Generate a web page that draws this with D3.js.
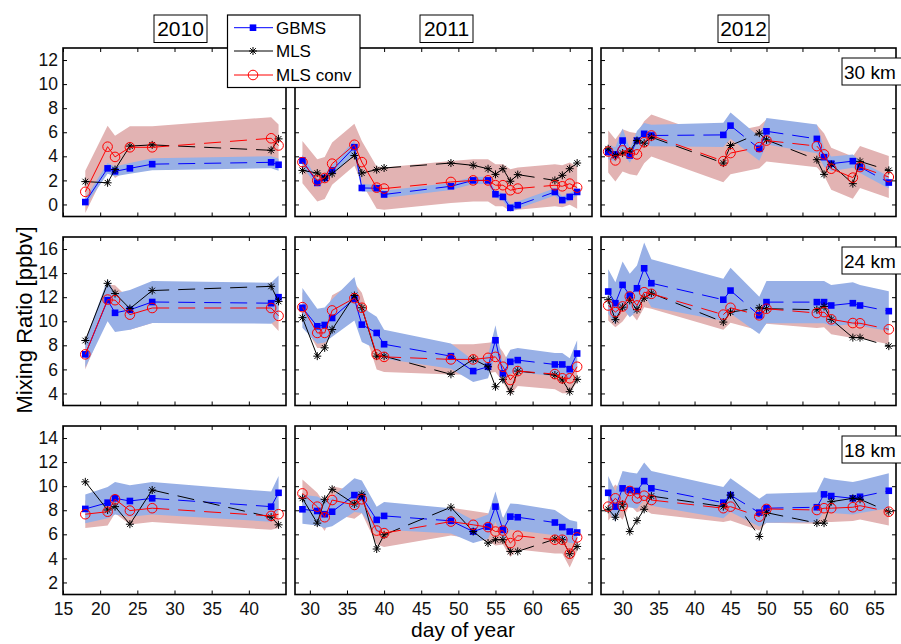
<!DOCTYPE html>
<html><head><meta charset="utf-8">
<script src="https://cdn.jsdelivr.net/npm/d3@7"></script>
<style>body{margin:0;background:#fff}svg{display:block}text{font-family:Arial,"Liberation Sans",Helvetica,sans-serif}</style>
</head><body><svg id="c" width="901" height="644"></svg>
<script>
// ---------------- data ----------------
const years = ["2010", "2011", "2012"];
const altitudes = ["30 km", "24 km", "18 km"];
const seriesNames = ["GBMS", "MLS", "MLS conv"];

const days2010 = [18, 21, 22, 24, 27, 43, 44];
const days2011 = [29, 31, 32, 33, 36, 37, 39, 40, 49, 52, 54, 55, 56, 57, 58, 63, 64, 65, 66];
const days2012 = [28, 29, 30, 31, 32, 33, 34, 44, 45, 49, 50, 57, 58, 59, 62, 63, 67];

// 30 km
const gbms2010_30 = [0.2, 3.0, 2.75, 3.0, 3.35, 3.5, 3.3];
const mls2010_30  = [1.9, 1.8, 2.9, 4.85, 4.95, 4.5, 5.45];
const conv2010_30 = [1.05, 4.8, 3.95, 4.75, 4.75, 5.5, 4.9];
const gerr2010_30 = [0.3, 0.45, 0.4, 0.45, 0.5, 0.5, 0.5];

const gbms2011_30 = [3.65, 1.79, 2.2, 2.83, 4.76, 1.37, 1.35, 0.83, 1.51, 2.0, 2.0, 0.85, 0.63, -0.28, -0.06, 1.04, 0.36, 0.63, 1.04];
const mls2011_30  = [2.83, 2.61, 2.2, 2.56, 4.07, 2.61, 2.89, 3.03, 3.44, 3.25, 2.97, 2.5, 2.97, 1.93, 2.48, 2.0, 2.42, 2.97, 3.44];
const conv2011_30 = [3.52, 2.0, 2.2, 3.39, 4.96, 3.52, 1.4, 1.32, 1.87, 2.0, 2.0, 1.6, 1.6, 1.18, 1.32, 1.6, 1.51, 1.73, 1.4];
const gerr2011_30 = [0.5, 0.3, 0.35, 0.4, 0.6, 0.3, 0.3, 0.3, 0.3, 0.3, 0.3, 0.3, 0.3, 0.3, 0.3, 0.3, 0.3, 0.3, 0.3];

const gbms2012_30 = [4.35, 4.16, 5.31, 4.07, 5.31, 5.87, 5.73, 5.78, 6.55, 4.63, 6.08, 5.45, 3.93, 3.39, 3.6, 3.11, 1.82];
const mls2012_30  = [4.63, 4.07, 4.27, 4.43, 5.31, 5.09, 5.59, 3.44, 4.9, 5.92, 5.37, 3.72, 2.5, 3.33, 1.73, 3.58, 2.83];
const conv2012_30 = [4.4, 3.66, 4.49, 4.27, 4.16, 5.17, 5.73, 3.6, 4.27, 4.76, 5.31, 4.85, 4.16, 2.97, 2.23, 3.11, 2.28];
const gerr2012_30 = [0.6, 0.6, 1.0, 0.6, 0.8, 0.9, 0.9, 1.0, 1.1, 1.0, 1.1, 1.2, 0.8, 0.6, 0.55, 0.5, 0.5];

// 24 km
const gbms2010_24 = [7.25, 11.75, 10.7, 10.95, 11.6, 11.5, 12.0];
const mls2010_24  = [8.4, 13.15, 12.3, 11.05, 12.55, 12.9, 11.65];
const conv2010_24 = [7.25, 11.8, 11.75, 10.55, 11.1, 11.1, 10.45];
const gerr2010_24 = [1.1, 1.75, 1.6, 1.65, 1.75, 1.7, 1.8];

const gbms2011_24 = [11.12, 9.58, 9.69, 10.27, 11.87, 9.72, 9.03, 8.09, 7.1, 5.86, 6.22, 8.42, 5.67, 6.63, 6.77, 6.41, 6.41, 6.02, 7.32];
const mls2011_24  = [10.3, 7.1, 7.79, 9.31, 12.14, 11.12, 7.1, 7.1, 5.59, 6.85, 6.22, 4.56, 5.17, 4.15, 5.86, 5.53, 5.12, 4.15, 5.17];
const conv2011_24 = [11.17, 9.03, 9.03, 10.9, 11.92, 11.12, 7.24, 7.04, 6.83, 6.83, 6.96, 7.04, 6.22, 5.12, 5.86, 5.61, 5.26, 5.26, 6.22];
const gerr2011_24 = [1.65, 1.45, 1.45, 1.55, 1.8, 1.45, 1.35, 1.2, 1.05, 0.9, 0.95, 1.25, 0.85, 1.0, 1.0, 0.95, 0.95, 0.9, 1.1];

const gbms2012_24 = [12.47, 11.5, 13.02, 12.14, 12.74, 14.4, 13.16, 11.79, 12.55, 10.49, 11.59, 11.59, 11.59, 11.31, 11.5, 11.31, 10.84];
const mls2012_24  = [11.79, 10.13, 11.17, 11.73, 10.96, 11.92, 12.33, 9.93, 10.76, 11.12, 11.04, 10.96, 11.23, 10.16, 8.64, 8.64, 7.93];
const conv2012_24 = [11.31, 10.76, 11.23, 12.06, 11.31, 12.41, 12.28, 10.55, 11.12, 10.49, 11.04, 10.68, 10.76, 10.16, 9.85, 9.83, 9.33];
const gerr2012_24 = [1.85, 1.75, 1.95, 1.8, 1.9, 2.15, 2.0, 1.75, 1.9, 1.55, 1.75, 1.75, 1.75, 1.7, 1.75, 1.7, 1.65];

// 18 km
const gbms2010_18 = [8.11, 8.63, 8.99, 8.77, 8.99, 8.3, 9.45];
const mls2010_18  = [10.36, 8.02, 8.3, 6.84, 9.68, 7.42, 6.79];
const conv2010_18 = [7.67, 7.88, 8.91, 7.97, 8.17, 7.53, 7.67];
const gerr2010_18 = [1.2, 1.3, 1.35, 1.3, 1.35, 1.25, 1.4];

const gbms2011_18 = [8.08, 7.94, 7.67, 7.88, 9.26, 9.12, 7.2, 7.53, 7.12, 6.23, 6.64, 8.3, 6.37, 7.47, 7.42, 6.98, 6.6, 6.23, 6.15];
const mls2011_18  = [8.99, 6.93, 8.91, 9.74, 8.52, 9.32, 4.78, 5.96, 8.25, 6.23, 5.27, 5.55, 5.55, 4.58, 4.58, 5.6, 5.55, 4.39, 4.99];
const conv2011_18 = [9.4, 8.3, 7.42, 8.85, 8.44, 8.91, 6.31, 6.1, 7.06, 6.79, 6.6, 6.23, 6.31, 5.27, 5.88, 5.55, 5.55, 4.39, 5.74];
const gerr2011_18 = [1.2, 1.2, 1.15, 1.2, 1.4, 1.35, 1.1, 1.15, 1.05, 0.95, 1.0, 1.25, 0.95, 1.1, 1.1, 1.05, 1.0, 0.95, 0.9];

const gbms2012_18 = [9.45, 8.3, 9.82, 9.68, 9.6, 10.42, 9.82, 8.63, 9.26, 7.8, 8.17, 8.25, 9.32, 9.18, 8.99, 9.12, 9.62];
const mls2012_18  = [8.08, 7.42, 8.5, 6.23, 7.14, 8.08, 9.18, 8.3, 9.26, 5.82, 7.8, 6.93, 6.93, 8.71, 8.99, 8.91, 7.88];
const conv2012_18 = [8.3, 8.99, 8.36, 9.6, 8.99, 9.21, 8.85, 8.17, 8.3, 7.47, 8.11, 8.02, 8.17, 8.17, 8.25, 8.38, 7.88];
const gerr2012_18 = [1.4, 1.25, 1.45, 1.45, 1.45, 1.55, 1.45, 1.3, 1.4, 1.15, 1.2, 1.25, 1.4, 1.4, 1.35, 1.35, 1.45];

// MLS conv uncertainty per altitude (30, 24, 18 km)
const convErr = [1.75, 1.25, 1.15];

// axes
const xDomains = [[15, 45], [28, 68], [27, 68]];
const yDomains = [[-1, 13], [3, 17], [1, 15]];
const xTickVals = [[15, 20, 25, 30, 35, 40], [30, 35, 40, 45, 50, 55, 60, 65], [30, 35, 40, 45, 50, 55, 60, 65]];
const yTickVals = [[0, 2, 4, 6, 8, 10, 12], [4, 6, 8, 10, 12, 14, 16], [2, 4, 6, 8, 10, 12, 14]];

// ---------------- table built from arrays ----------------
const daysByYear = [days2010, days2011, days2012];
const gbmsT = [[gbms2010_30, gbms2011_30, gbms2012_30], [gbms2010_24, gbms2011_24, gbms2012_24], [gbms2010_18, gbms2011_18, gbms2012_18]];
const mlsT  = [[mls2010_30, mls2011_30, mls2012_30], [mls2010_24, mls2011_24, mls2012_24], [mls2010_18, mls2011_18, mls2012_18]];
const convT = [[conv2010_30, conv2011_30, conv2012_30], [conv2010_24, conv2011_24, conv2012_24], [conv2010_18, conv2011_18, conv2012_18]];
const gerrT = [[gerr2010_30, gerr2011_30, gerr2012_30], [gerr2010_24, gerr2011_24, gerr2012_24], [gerr2010_18, gerr2011_18, gerr2012_18]];

// ---------------- layout ----------------
const colX = [[63, 286], [295, 592], [601, 896]];
const rowY = [[48, 216.5], [237, 405.5], [426, 594.5]];
const BLUE = "#0000ff", RED = "#ff0000", BLACK = "#000000";
const BLUEBAND = "#98b0e6", REDBAND = "#e2b3b3";
const DASH = "17,9";

const svg = d3.select("#c");
const defs = svg.append("defs");

function starPath(s) {
  const a = s * 0.7071;
  return `M${-s},0L${s},0M0,${-s}L0,${s}M${-a},${-a}L${a},${a}M${-a},${a}L${a},${-a}`;
}

function drawSeries(g, pts, x, y, color, marker) {
  for (let i = 0; i < pts.length - 1; i++) {
    const p = pts[i], q = pts[i + 1];
    g.append("line")
      .attr("x1", x(p.day)).attr("y1", y(p.v))
      .attr("x2", x(q.day)).attr("y2", y(q.v))
      .attr("stroke", color).attr("stroke-width", 1)
      .attr("stroke-dasharray", (q.day - p.day) > 3 ? DASH : null);
  }
  const m = g.selectAll(null).data(pts).enter();
  if (marker === "square") {
    m.append("rect").attr("x", d => x(d.day) - 3.3).attr("y", d => y(d.v) - 3.3)
      .attr("width", 6.6).attr("height", 6.6).attr("fill", color);
  } else if (marker === "star") {
    m.append("path").attr("transform", d => `translate(${x(d.day)},${y(d.v)})`)
      .attr("d", starPath(4)).attr("stroke", color).attr("stroke-width", 1).attr("fill", "none");
  } else {
    m.append("circle").attr("cx", d => x(d.day)).attr("cy", d => y(d.v)).attr("r", 4.8)
      .attr("fill", "none").attr("stroke", color).attr("stroke-width", 1);
  }
}

for (let r = 0; r < 3; r++) {
  for (let c = 0; c < 3; c++) {
    const x = d3.scaleLinear().domain(xDomains[c]).range(colX[c]);
    const y = d3.scaleLinear().domain(yDomains[r]).range([rowY[r][1], rowY[r][0]]);
    const days = daysByYear[c];
    const g = svg.append("g");
    const cid = `clip${r}${c}`;
    defs.append("clipPath").attr("id", cid).append("rect")
      .attr("x", colX[c][0]).attr("y", rowY[r][0])
      .attr("width", colX[c][1] - colX[c][0]).attr("height", rowY[r][1] - rowY[r][0]);
    const pg = g.append("g").attr("clip-path", `url(#${cid})`);

    const gb = days.map((d, i) => ({day: d, v: gbmsT[r][c][i], e: gerrT[r][c][i]}));
    const ml = days.map((d, i) => ({day: d, v: mlsT[r][c][i]}));
    const cv = days.map((d, i) => ({day: d, v: convT[r][c][i], e: convErr[r]}));

    const area = d3.area().x(d => x(d.day)).y0(d => y(d.v - d.e)).y1(d => y(d.v + d.e));
    pg.append("path").attr("d", area(cv)).attr("fill", REDBAND);
    pg.append("path").attr("d", area(gb)).attr("fill", BLUEBAND);

    drawSeries(g, gb, x, y, BLUE, "square");
    drawSeries(g, ml, x, y, BLACK, "star");
    drawSeries(g, cv, x, y, RED, "circle");

    // axes
    const left = d3.axisLeft(y).tickValues(yTickVals[r]).tickSize(-4).tickSizeOuter(0).tickPadding(5);
    if (c > 0) left.tickFormat("");
    const right = d3.axisRight(y).tickValues(yTickVals[r]).tickSize(-4).tickSizeOuter(0).tickFormat("");
    const top = d3.axisTop(x).tickValues(xTickVals[c]).tickSize(-4).tickSizeOuter(0).tickFormat("");
    const bottom = d3.axisBottom(x).tickValues(xTickVals[c]).tickSize(-4).tickSizeOuter(0).tickPadding(8);
    if (r < 2) bottom.tickFormat("");
    const axes = [
      [left, `translate(${colX[c][0]},0)`],
      [right, `translate(${colX[c][1]},0)`],
      [top, `translate(0,${rowY[r][0]})`],
      [bottom, `translate(0,${rowY[r][1]})`]
    ];
    axes.forEach(([ax, tr]) => {
      const a = g.append("g").attr("transform", tr).call(ax);
      a.select(".domain").remove();
      a.selectAll("line").attr("stroke", "#000").attr("stroke-width", 1);
      a.selectAll("text").attr("font-size", 17.5).attr("fill", "#111")
        .attr("font-family", "Arial, 'Liberation Sans', sans-serif");
    });
    g.append("rect").attr("x", colX[c][0]).attr("y", rowY[r][0])
      .attr("width", colX[c][1] - colX[c][0]).attr("height", rowY[r][1] - rowY[r][0])
      .attr("fill", "none").attr("stroke", "#000").attr("stroke-width", 1.6);
  }
}

// year labels
const yearBoxes = [[154, 207], [420, 473], [718, 769]];
years.forEach((t, i) => {
  const [x0, x1] = yearBoxes[i];
  svg.append("rect").attr("x", x0).attr("y", 15).attr("width", x1 - x0).attr("height", 27.5)
    .attr("fill", "#fff").attr("stroke", "#000").attr("stroke-width", 1);
  svg.append("text").attr("x", (x0 + x1) / 2).attr("y", 36).attr("text-anchor", "middle")
    .attr("font-size", 21).attr("fill", "#000").text(t);
});

// altitude labels
altitudes.forEach((t, r) => {
  const y0 = rowY[r][0] + 10;
  svg.append("rect").attr("x", 842).attr("y", y0).attr("width", 70).attr("height", 27)
    .attr("fill", "#fff").attr("stroke", "#000").attr("stroke-width", 1);
  svg.append("text").attr("x", 844).attr("y", y0 + 20.5).attr("font-size", 19).attr("fill", "#000").text(t);
});

// legend
const lg = svg.append("g");
lg.append("rect").attr("x", 227.5).attr("y", 15).attr("width", 132.5).attr("height", 72.5)
  .attr("fill", "#fff").attr("stroke", "#000").attr("stroke-width", 1.2);
const legColors = [BLUE, BLACK, RED];
const legMarkers = ["square", "star", "circle"];
const legY = [27.7, 51, 75];
seriesNames.forEach((n, i) => {
  const yy = legY[i];
  lg.append("line").attr("x1", 234).attr("x2", 273).attr("y1", yy).attr("y2", yy)
    .attr("stroke", legColors[i]).attr("stroke-width", 1);
  if (legMarkers[i] === "square") lg.append("rect").attr("x", 253 - 3.3).attr("y", yy - 3.3).attr("width", 6.6).attr("height", 6.6).attr("fill", BLUE);
  else if (legMarkers[i] === "star") lg.append("path").attr("transform", `translate(253,${yy})`).attr("d", starPath(4)).attr("stroke", BLACK).attr("fill", "none");
  else lg.append("circle").attr("cx", 253).attr("cy", yy).attr("r", 4.8).attr("fill", "none").attr("stroke", RED);
  lg.append("text").attr("x", 276).attr("y", yy + 6).attr("font-size", 17).attr("fill", "#000").text(n);
});

// axis titles
svg.append("text").attr("transform", "translate(32,320) rotate(-90)").attr("text-anchor", "middle")
  .attr("font-size", 22).attr("fill", "#000").text("Mixing Ratio [ppbv]");
svg.append("text").attr("x", 463).attr("y", 637).attr("text-anchor", "middle")
  .attr("font-size", 21).attr("fill", "#000").text("day of year");
</script></body></html>
